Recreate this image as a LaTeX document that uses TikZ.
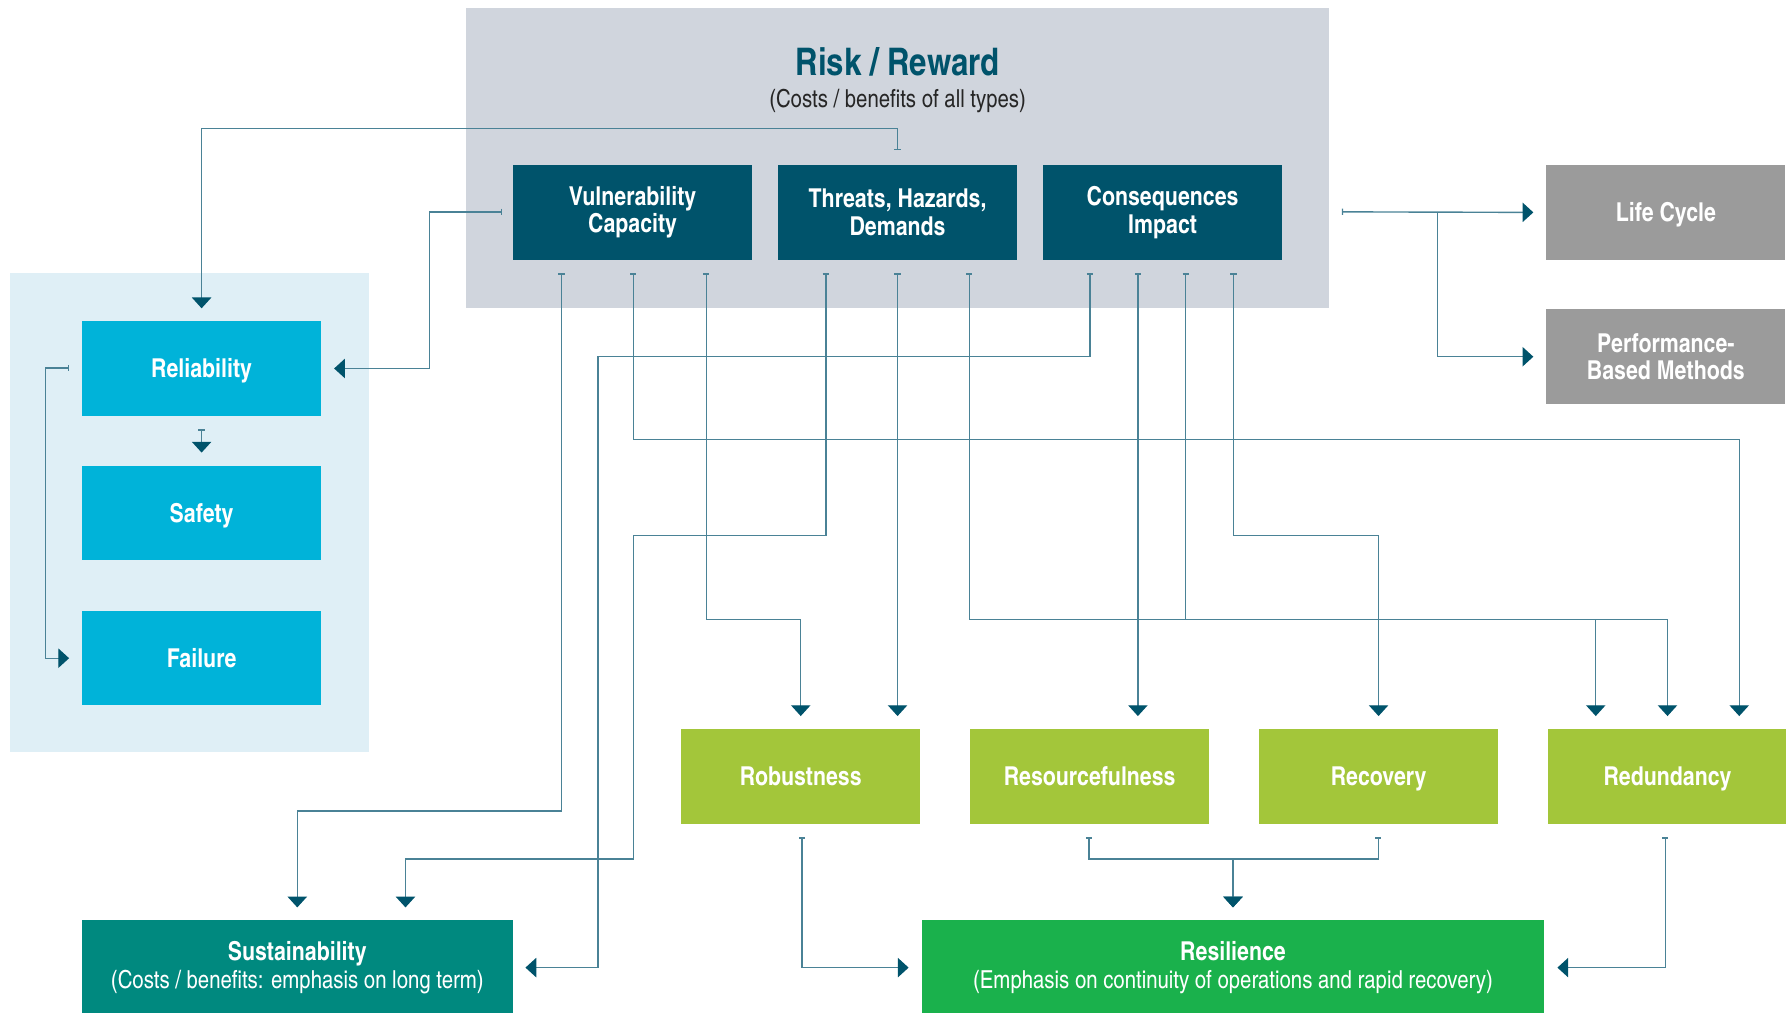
\documentclass[tikz,border=0pt]{standalone}
\usepackage{fontspec}
\setmainfont{texgyreheroscn}[Extension=.otf, UprightFont=*-regular, BoldFont=*-bold]
\usetikzlibrary{arrows.meta,positioning}

\definecolor{riskgray}{HTML}{D0D5DD}
\definecolor{darkteal}{HTML}{00536B}
\definecolor{lifegray}{HTML}{9B9B9B}
\definecolor{panelblue}{HTML}{DFEFF6}
\definecolor{cyanfill}{HTML}{00B3D9}
\definecolor{olivefill}{HTML}{A3C63A}
\definecolor{susteal}{HTML}{00897F}
\definecolor{reslgreen}{HTML}{1AB14C}
\definecolor{linecol}{HTML}{4A8296}

\tikzset{
  box/.style={minimum width=4.2cm, minimum height=1.66cm, inner sep=0pt, align=center,
    text=white, font=\fontsize{13}{13.7}\selectfont\bfseries},
  single/.style={text height=9.4pt, text depth=0pt},
  darkbox/.style={box, fill=darkteal},
  cyanbox/.style={box, single, fill=cyanfill},
  graybox/.style={box, fill=lifegray},
  greenbox/.style={box, single, fill=olivefill},
  widebox/.style={box, minimum height=1.66cm, font=\fontsize{12.4}{13.7}\selectfont},
  link/.style={draw=linecol, line width=0.7pt, shorten >=2.2mm,
    {Bar[width=1.1mm, color=linecol]}-{Triangle[length=1.9mm, width=3.4mm, color=darkteal]}},
  branch/.style={draw=linecol, line width=0.7pt, shorten >=2.2mm,
    -{Triangle[length=1.9mm, width=3.4mm, color=darkteal]}}
}

\begin{document}
\begin{tikzpicture}[x=0.02cm, y=-0.02cm]
    \useasboundingbox (0,0) rectangle (1568,889);

    % Draw background panels
    \node[fill=riskgray, minimum width=15.16cm, minimum height=5.26cm, inner sep=0pt] (risk) at (788,138.5) {};
    \fill[panelblue] (9,240) rectangle (324,660);

    % Title of the risk panel
    \node[anchor=base, text=darkteal, font=\fontsize{19}{22}\selectfont\bfseries] (rtitle) at (788,66) {Risk / Reward};
    \node[anchor=base, text=black!85, font=\fontsize{12.4}{14}\selectfont] (rsub) at (788,94) {(Costs / benefits of all types)};

    % Draw boxes
    \node[darkbox] (thr) at (788,186.5) {Threats, Hazards,\\Demands};
    \node[darkbox, left=0.44cm of thr] (vul) {Vulnerability\\Capacity};
    \node[darkbox, right=0.44cm of thr] (con) {Consequences\\Impact};

    \node[graybox, single] (life) at (1462.5,186.5) {Life Cycle};
    \node[graybox, below=0.86cm of life] (perf) {Performance-\\Based Methods};

    \node[cyanbox] (rel) at (177,323.5) {Reliability};
    \node[cyanbox, below=0.86cm of rel] (saf) {Safety};
    \node[cyanbox, below=0.88cm of saf] (fail) {Failure};

    \node[greenbox] (rob) at (703,681.5) {Robustness};
    \node[greenbox, right=0.86cm of rob] (res) {Resourcefulness};
    \node[greenbox, right=0.86cm of res] (rec) {Recovery};
    \node[greenbox, right=0.86cm of rec] (red) {Redundancy};

    \node[widebox, fill=susteal, minimum width=7.56cm] (sus) at (261,849.5)
      {{\fontsize{13}{13.7}\selectfont\bfseries Sustainability}\\(Costs / benefits: emphasis on long term)};
    \node[widebox, fill=reslgreen, minimum width=10.94cm] (resl) at (1082.5,849.5)
      {{\fontsize{13}{13.7}\selectfont\bfseries Resilience}\\(Emphasis on continuity of operations and rapid recovery)};

    % Start points of the links
    \coordinate (thrT) at (788,132);
    \coordinate (vulL) at (441,186);
    \coordinate (relB) at (177,377);
    \coordinate (relL) at (61,323);
    \coordinate (riskR) at (1178,186);
    \coordinate (v1) at (493,240);
    \coordinate (v2) at (556,240);
    \coordinate (v3) at (620,240);
    \coordinate (t1) at (725,240);
    \coordinate (t2) at (788,240);
    \coordinate (t3) at (851,240);
    \coordinate (c1) at (957,240);
    \coordinate (c2) at (999,240);
    \coordinate (c3) at (1041,240);
    \coordinate (c4) at (1083,240);
    \coordinate (robB) at (704,735);
    \coordinate (resB) at (956,735);
    \coordinate (recB) at (1210,735);
    \coordinate (redB) at (1462,735);

    % Draw links to the reliability column
    \draw[link] (thrT) -- (788,113) -| (rel.north);
    \draw[link] (vulL) -- (377,186) |- (rel.east);
    \draw[link] (relB) -- (saf.north);
    \draw[link] (relL) -- (40,323) |- (fail.west);

    % Draw links to life cycle
    \draw[link] (riskR) -- (life.west);
    \draw[branch] (1262,186) |- (perf.west);

    % Draw links down from the dark boxes
    \draw[link] (v1) -- (493,712) -| (sus.north);
    \draw[link] (v2) -- (556,386) -| ([xshift=1.26cm]red.north);
    \draw[link] (v3) -- (620,544) -| (rob.north);
    \draw[link] (t1) -- (725,470) -- (556,470) -- (556,754) -| ([xshift=1.9cm]sus.north);
    \draw[link] (t2) -- (t2 |- rob.north);
    \draw[link] (t3) -- (851,544) -| (red.north);
    \draw[link] (c1) -- (957,313) -- (525,313) |- (sus.east);
    \draw[link] (c2) -- (c2 |- res.north);
    \draw[link] (c3) -- (1041,544) -| ([xshift=-1.26cm]red.north);
    \draw[link] (c4) -- (1083,470) -| (rec.north);

    % Draw links into resilience
    \draw[link] (robB) |- (resl.west);
    \draw[link] (resB) -- (956,754) -| (resl.north);
    \draw[link] (recB) -- (1210,754) -| (resl.north);
    \draw[link] (redB) |- (resl.east);

  \end{tikzpicture}
\end{document}
